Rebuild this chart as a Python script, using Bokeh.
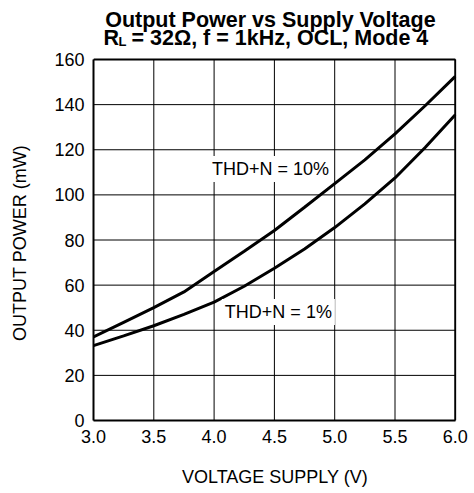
from bokeh.plotting import figure
from bokeh.models import Label, Range1d, FixedTicker
from bokeh.embed import file_html
from bokeh.resources import INLINE

# ---- data ----
voltage = [3.0, 3.25, 3.5, 3.75, 4.0, 4.25, 4.5, 4.75, 5.0, 5.25, 5.5, 5.75, 6.0]
power_thd10 = [37.0, 43.5, 50.0, 57.0, 66.0, 75.0, 84.2, 94.5, 105.0, 115.5, 127.0, 139.5, 152.5]
power_thd1 = [33.2, 37.5, 42.0, 47.0, 52.5, 59.5, 67.5, 76.0, 85.5, 96.0, 107.5, 121.0, 135.5]
x_ticks = [3.0, 3.5, 4.0, 4.5, 5.0, 5.5, 6.0]
y_ticks = [0, 20, 40, 60, 80, 100, 120, 140, 160]
title_line1 = "Output Power vs Supply Voltage"
title_r = "R"
title_sub = "L"
title_rest = "= 32\u03a9, f = 1kHz, OCL, Mode 4"
label_10 = "THD+N = 10%"
label_1 = "THD+N = 1%"
x_label = "VOLTAGE SUPPLY (V)"
y_label = "OUTPUT POWER (mW)"

FONT = "Liberation Sans"

# layout geometry (pixels)
W, H = 470, 490
LEFT, RIGHT_EDGE, BOTTOM = 93, 455, 420     # where x=3.0, x=6.0 and y=0 sit
TOP_TICK = 59                               # where y=160 sits
XPX = (RIGHT_EDGE - LEFT) / (x_ticks[-1] - x_ticks[0])
YPX = (BOTTOM - TOP_TICK) / (y_ticks[-1] - y_ticks[0])
x_end = x_ticks[-1] + 1.2 / XPX             # tiny room so the right border is not clipped
y_end = BOTTOM / YPX                        # frame reaches the top of the canvas (title room)
frame_w = round((x_end - x_ticks[0]) * XPX)

p = figure(width=W, height=H, output_backend="svg", toolbar_location=None,
           x_range=Range1d(x_ticks[0], x_end), y_range=Range1d(y_ticks[0], y_end),
           min_border_left=LEFT, min_border_right=W - LEFT - frame_w,
           min_border_top=0, min_border_bottom=H - BOTTOM)
p.title.text = ""
p.background_fill_color = "white"
p.border_fill_color = "white"
p.outline_line_color = None
p.xgrid.visible = False
p.ygrid.visible = False

for ax in (p.xaxis[0], p.yaxis[0]):
    ax.axis_line_color = "black"
    ax.axis_line_width = 2
    ax.major_tick_out = 0
    ax.major_tick_in = 0
    ax.minor_tick_out = 0
    ax.minor_tick_in = 0
    ax.major_label_text_font = FONT
    ax.major_label_text_font_size = "18px"
    ax.major_label_text_color = "black"
    ax.axis_label_text_font = FONT
    ax.axis_label_text_font_size = "18px"
    ax.axis_label_text_font_style = "normal"
    ax.axis_label_text_color = "black"

p.xaxis.bounds = (x_ticks[0], x_ticks[-1])
p.yaxis.bounds = (y_ticks[0], y_ticks[-1])
p.xaxis.ticker = FixedTicker(ticks=x_ticks)
p.yaxis.ticker = FixedTicker(ticks=y_ticks)
p.xaxis.major_label_overrides = {tk: f"{tk:.1f}" for tk in x_ticks}
p.xaxis.axis_label = x_label
# the label is centred on the whole frame (which reaches up into the title area);
# trailing no-break spaces move the visible words down to the middle of the 0..160 box
p.yaxis.axis_label = y_label + "\u00a0" * 13
p.xaxis.major_label_standoff = 9
p.yaxis.major_label_standoff = 9
p.xaxis.axis_label_standoff = 21
p.yaxis.axis_label_standoff = 21

# grid lines built from the tick lists (limited to the 0..160 box)
nx, ny = len(x_ticks), len(y_ticks)
p.segment(x0=x_ticks, y0=[y_ticks[0]] * nx, x1=x_ticks, y1=[y_ticks[-1]] * nx,
          line_color="black", line_width=1)
p.segment(x0=[x_ticks[0]] * ny, y0=y_ticks, x1=[x_ticks[-1]] * ny, y1=y_ticks,
          line_color="black", line_width=1)
# top and right frame border
p.segment(x0=[x_ticks[0], x_ticks[-1]], y0=[y_ticks[-1], y_ticks[0]],
          x1=[x_ticks[-1], x_ticks[-1]], y1=[y_ticks[-1], y_ticks[-1]],
          line_color="black", line_width=2)

p.line(voltage, power_thd10, line_color="black", line_width=3)
p.line(voltage, power_thd1, line_color="black", line_width=3)

p.add_layout(Label(x=4.467, y=111.5, text=label_10, text_align="center", text_baseline="middle",
                   text_font=FONT, text_font_size="18px", text_color="black",
                   background_fill_color="white", padding=3))
p.add_layout(Label(x=4.533, y=48.1, text=label_1, text_align="center", text_baseline="middle",
                   text_font=FONT, text_font_size="18px", text_color="black",
                   background_fill_color="white", padding=3))

# title (inside the frame area above the chart box)
def dx(px):
    return x_ticks[0] + (px - LEFT) / XPX

def dy(py):
    return (BOTTOM - py) / YPX

common = dict(text_baseline="alphabetic", text_font=FONT, text_font_style="bold",
              text_color="black")
p.add_layout(Label(x=dx(270), y=dy(19), text=title_line1, text_align="center",
                   text_font_size="21.5px", **common))
p.add_layout(Label(x=dx(103), y=dy(37), text=title_r, text_align="left",
                   text_font_size="21.5px", **common))
p.add_layout(Label(x=dx(118), y=dy(41), text=title_sub, text_align="left",
                   text_font_size="13px", **common))
p.add_layout(Label(x=dx(131), y=dy(37), text=title_rest, text_align="left",
                   text_font_size="21.5px", **common))

open("out.html", "w").write(file_html(p, INLINE))
